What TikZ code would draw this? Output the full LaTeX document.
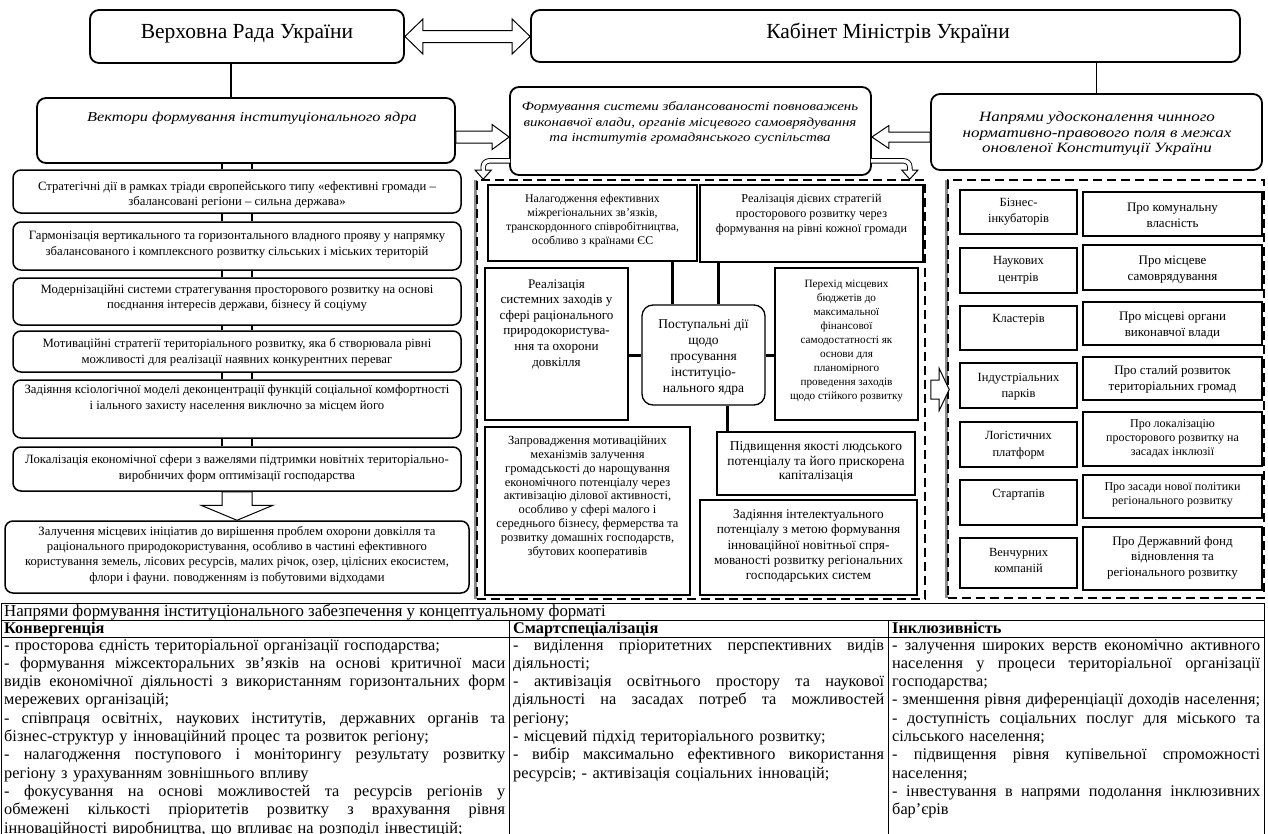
\documentclass[tikz,border=0pt]{standalone}
\usepackage{fontspec}
\setmainfont{Liberation Serif}
\newfontfamily\wit{Liberation Serif}[FakeStretch=1.2]
\usetikzlibrary{calc}
\newcommand\fsz[2]{\fontsize{#1pt}{#2pt}\selectfont}
\newcommand\jl[2]{\leavevmode\hbox to #1{\spaceskip=0.25em plus 1fil minus 0.08em\xspaceskip=0.25em plus 1fil minus 0.08em\relax #2}}
\newcommand\mkbox[6]{\node[#1, minimum width={(#5-#3)*1pt}, minimum height={(#6-#4)*1pt}] (#2) at ({(#3+#5)/2},{(#4+#6)/2}) {};}
\newcommand\fatR[5]{\draw[fat] let \p1=(#1), \p2=(#2) in (\x1,\y1+#3pt) -- (\x2-#5pt,\y1+#3pt) -- (\x2-#5pt,\y1+#4pt) -- (\x2,\y1) -- (\x2-#5pt,\y1-#4pt) -- (\x2-#5pt,\y1-#3pt) -- (\x1,\y1-#3pt) -- cycle;}
\newcommand\fatL[5]{\draw[fat] let \p1=(#1), \p2=(#2) in (\x1,\y1+#3pt) -- (\x2+#5pt,\y1+#3pt) -- (\x2+#5pt,\y1+#4pt) -- (\x2,\y1) -- (\x2+#5pt,\y1-#4pt) -- (\x2+#5pt,\y1-#3pt) -- (\x1,\y1-#3pt) -- cycle;}
\newcommand\fatD[5]{\draw[fat] let \p1=(#1), \p2=(#2) in (\x1+#3pt,\y1) -- (\x1+#3pt,\y2+#5pt) -- (\x1+#4pt,\y2+#5pt) -- (\x1,\y2) -- (\x1-#4pt,\y2+#5pt) -- (\x1-#3pt,\y2+#5pt) -- (\x1-#3pt,\y1) -- cycle;}
\newcommand\fatLR[5]{\draw[fat] let \p1=(#1), \p2=(#2) in (\x1,\y1) -- (\x1+#5pt,\y1+#4pt) -- (\x1+#5pt,\y1+#3pt) -- (\x2-#5pt,\y1+#3pt) -- (\x2-#5pt,\y1+#4pt) -- (\x2,\y1) -- (\x2-#5pt,\y1-#4pt) -- (\x2-#5pt,\y1-#3pt) -- (\x1+#5pt,\y1-#3pt) -- (\x1+#5pt,\y1-#4pt) -- cycle;}
\newcommand\dlines[2]{\draw[thin2] ($(#1.south)+(-15,0)$) -- ($(#2.north)+(-15,0)$); \draw[thin2] ($(#1.south)+(15,0)$) -- ($(#2.north)+(15,0)$);}
\tikzset{
 tbox/.style={draw, line width=1.8pt, rounded corners=9pt, fill=white, inner sep=0pt},
 lbox/.style={draw, line width=1.5pt, rounded corners=8pt, fill=white, inner sep=0pt},
 mbox/.style={draw, line width=1.3pt, fill=white, inner sep=0pt},
 cbox/.style={draw, line width=1.3pt, rounded corners=11pt, fill=white, inner sep=0pt},
 rbox/.style={draw, line width=1.5pt, fill=white, inner sep=0pt},
 dframe/.style={draw, line width=1.6pt, dash pattern=on 9pt off 5pt, inner sep=0pt},
 shadebar/.style={draw=black!45, line width=3pt},
 conn/.style={line width=3pt},
 thin2/.style={line width=1.4pt},
 fat/.style={draw, line width=1pt, fill=white, line join=miter},
 hollow/.style={line width=0.9pt, double=white, double distance=3.6pt},
 tl/.style={line width=0.9pt},
 txt/.style={inner sep=0pt, align=center},
 ltxt/.style={txt, font=\fsz{12.7}{15.5}},
 rtxt/.style={txt, font=\fsz{12.5}{16.5}},
 stxt/.style={txt, font=\fsz{13}{16}},
 tabtxt/.style={anchor=north west, inner sep=0pt, align=left, font=\fsz{16.3}{18.3}},
 tabhead/.style={anchor=base west, inner sep=0pt, font=\bfseries\fsz{16.3}{18.3}},
}
\begin{document}
\begin{tikzpicture}[x=1pt,y=-1pt]
\useasboundingbox (0,0) rectangle (1268,833);
\clip (0,0) rectangle (1268,833);
% ---------- top row
\mkbox{tbox}{A}{90}{10}{404}{63}
\mkbox{tbox}{B}{531}{10}{1240}{62}
\node[txt, font=\fsz{21.5}{24}] (tA) at (247,34) {Верховна Рада України};
\node[txt, font=\fsz{21.5}{24}] (tB) at (888,33) {Кабінет Міністрів України};
\fatLR{A.east}{B.west}{6}{17.5}{18}
% ---------- second row
\mkbox{tbox}{C}{37}{98}{455}{163}
\mkbox{tbox}{D}{510}{87}{871}{175}
\mkbox{tbox}{E}{931}{94}{1262}{170}
\draw[thin2] (A.south) ++(-16,0) coordinate (ka) -- (ka |- C.north);
\draw[thin2] (E.north |- B.south) -- (E.north);
\node[txt, font={\wit\itshape\fsz{13.6}{17}}] (tC) at (252,118) {Вектори формування інституціонального ядра};
\node[txt, font={\wit\itshape\fsz{12.5}{15.5}}] (tD) at (690,123) {Формування системи збалансованості повноважень\\виконавчої влади, органів місцевого самоврядування\\та інститутів громадянського суспільства};
\node[txt, font={\wit\itshape\fsz{14.2}{15.5}}] (tE) at (1097,134) {Напрями удосконалення чинного\\нормативно-правового поля в межах\\оновленої Конституції України};
\fatR{$(C.east)+(0,6.5)$}{D.west}{6}{12.5}{17}
\fatL{$(E.west)+(0,5)$}{D.east}{5}{11.5}{17}
% ---------- frames
\draw[shadebar] (475.5,180) -- (475.5,599);
\draw[shadebar] (946.5,180) -- (946.5,598);
\mkbox{dframe}{MF}{477}{180}{925}{599}
\mkbox{dframe}{RF}{948}{180}{1264}{598}
% curved hollow arrows from D
\coordinate (cl0) at ($(D.south west)+(1,-15)$);
\coordinate (cl1) at ($(MF.north west)+(7,-9)$);
\draw[hollow, rounded corners=6pt] (cl0) -| (cl1);
\draw[fat] ($(cl1)+(-8,0)$) -- ($(cl1)+(8,0)$) -- ($(cl1)+(0,9)$) -- cycle;
\draw[white, line width=3.4pt] ($(cl1)+(0,-1)$) -- ($(cl1)+(0,1.5)$);
\coordinate (cr0) at ($(D.south east)+(-1,-15)$);
\coordinate (cr1) at ($(MF.north east)+(-16,-9)$);
\draw[hollow, rounded corners=6pt] (cr0) -| (cr1);
\draw[fat] ($(cr1)+(-8,0)$) -- ($(cr1)+(8,0)$) -- ($(cr1)+(0,9)$) -- cycle;
\draw[white, line width=3.4pt] ($(cr1)+(0,-1)$) -- ($(cr1)+(0,1.5)$);
% ---------- middle boxes
\mkbox{mbox}{M1}{488}{185}{697}{261}
\mkbox{mbox}{M2}{700}{185}{923}{262}
\mkbox{mbox}{M3}{485}{268}{628}{420}
\mkbox{cbox}{M0}{642}{305}{765}{405}
\mkbox{mbox}{M4}{775}{268}{918}{420}
\mkbox{mbox}{M5}{485}{427}{690}{595}
\mkbox{mbox}{M6}{717}{432}{915}{495}
\mkbox{mbox}{M7}{700}{500}{917}{595}
\draw[conn] (M0.north) ++(-31.5,0) coordinate (k1) -- (k1 |- M1.south);
\draw[conn] (M0.north) ++(14.5,0) coordinate (k2) -- (k2 |- M2.south);
\draw[conn] (M0.west) -- (M0.west -| M3.east);
\draw[conn] (M0.east) -- (M0.east -| M4.west);
\draw[conn] (M0.south) ++(23.5,0) coordinate (k3) -- (k3 |- M6.north);
\node[txt, font=\fsz{11.8}{14}] (tM1) at (592.5,221) {Налагодження ефективних\\міжрегіональних зв’язків,\\транскордонного співробітництва,\\особливо з країнами ЄС};
\node[txt, font=\fsz{12.2}{15}] (tM2) at (811.5,215) {Реалізація дієвих стратегій\\просторового розвитку через\\формування на рівні кожної громади};
\node[txt, font=\fsz{13.1}{15.6}] (tM3) at (556.5,324) {Реалізація\\системних заходів у\\сфері раціонального\\природокористува-\\ння та охорони\\довкілля};
\node[txt, font=\fsz{13.5}{16}] (tM0) at (703.5,357.5) {Поступальні дії\\щодо\\просування\\інституціо-\\нального ядра};
\node[txt, font=\fsz{11.2}{14.1}] (tM4) at (846.5,341) {Перехід місцевих\\бюджетів до\\максимальної\\фінансової\\самодостатності як\\основи для\\планомірного\\проведення заходів\\щодо стійкого розвитку};
\node[txt, font=\fsz{12.5}{13.8}] (tM5) at (587.5,497) {Запровадження мотиваційних\\механізмів залучення\\громадськості до нарощування\\економічного потенціалу через\\активізацію ділової активності,\\особливо у сфері малого і\\середнього бізнесу, фермерства та\\розвитку домашніх господарств,\\збутових кооперативів};
\node[txt, font=\fsz{13.5}{14.5}] (tM6) at (816,462) {Підвищення якості людського\\потенціалу та його прискорена\\капіталізація};
\node[txt, font=\fsz{13.3}{15.3}] (tM7) at (808.5,546) {Задіяння інтелектуального\\потенціалу з метою формування\\інноваційної новітньої спря-\\мованості розвитку регіональних\\господарських систем};
\fatR{$(MF.east)+(5,0)$}{$(RF.west)+(2,0)$}{9.5}{21}{10}
% ---------- right boxes
\mkbox{rbox}{R1}{960}{190}{1077}{234}
\mkbox{rbox}{R2}{960}{248}{1077}{293}
\mkbox{rbox}{R3}{960}{306}{1077}{350}
\mkbox{rbox}{R4}{960}{363}{1077}{408}
\mkbox{rbox}{R5}{960}{422}{1077}{467}
\mkbox{rbox}{R6}{960}{480}{1077}{525}
\mkbox{rbox}{R7}{960}{538}{1077}{588}
\mkbox{rbox}{S1}{1083}{192}{1262}{236}
\mkbox{rbox}{S2}{1083}{245}{1262}{290}
\mkbox{rbox}{S3}{1083}{302}{1262}{345}
\mkbox{rbox}{S4}{1083}{357}{1262}{400}
\mkbox{rbox}{S5}{1083}{412}{1262}{466}
\mkbox{rbox}{S6}{1083}{475}{1262}{518}
\mkbox{rbox}{S7}{1083}{527}{1262}{590}
\node[rtxt] (tR1) at (1018.5,211.5) {Бізнес-\\інкубаторів};
\node[rtxt] (tR2) at (1018.5,270) {Наукових\\центрів};
\node[rtxt] (tR3) at (1018.5,320) {Кластерів};
\node[rtxt] (tR4) at (1018.5,386.5) {Індустріальних\\парків};
\node[rtxt] (tR5) at (1018.5,445) {Логістичних\\платформ};
\node[rtxt] (tR6) at (1018.5,495) {Стартапів};
\node[rtxt] (tR7) at (1018.5,560.5) {Венчурних\\компаній};
\node[stxt] (tS1) at (1172.5,215) {Про комунальну\\власність};
\node[stxt] (tS2) at (1172.5,269.5) {Про місцеве\\самоврядування};
\node[stxt] (tS3) at (1172.5,325) {Про місцеві органи\\виконавчої влади};
\node[stxt] (tS4) at (1172.5,379.5) {Про сталий розвиток\\територіальних громад};
\node[txt, font=\fsz{12}{14}] (tS5) at (1172.5,439) {Про локалізацію\\просторового розвитку на\\засадах інклюзії};
\node[txt, font=\fsz{12}{14.5}] (tS6) at (1172.5,495) {Про засади нової політики\\регіонального розвитку};
\node[txt, font=\fsz{13}{15.5}] (tS7) at (1172.5,557.5) {Про Державний фонд\\відновлення та\\регіонального розвитку};
% ---------- left column
\mkbox{lbox}{L1}{13}{170}{461}{213}
\mkbox{lbox}{L2}{13}{222}{461}{270}
\mkbox{lbox}{L3}{13}{278}{461}{325}
\mkbox{lbox}{L4}{13}{331}{461}{372}
\mkbox{lbox}{L5}{13}{380}{461}{438}
\mkbox{lbox}{L6}{13}{447}{461}{491}
\mkbox{lbox}{L7}{5}{521}{469}{593}
\draw[thin2] ($(L1.north)+(-15,0)$) -- ($(L1.north |- C.south)+(-15,0)$);
\draw[thin2] ($(L1.north)+(15,0)$) -- ($(L1.north |- C.south)+(15,0)$);
\dlines{L1}{L2}
\dlines{L2}{L3}
\dlines{L3}{L4}
\dlines{L4}{L5}
\dlines{L5}{L6}
\fatD{L6.south}{L7.north}{15}{36}{15}
\node[ltxt] (tL1) at (237,195) {Стратегічні дії в рамках тріади європейського типу «ефективні громади –\\збалансовані регіони – сильна держава»};
\node[ltxt] (tL2) at (237,244.5) {Гармонізація вертикального та горизонтального владного прояву у напрямку\\збалансованого і комплексного розвитку сільських і міських територій};
\node[ltxt] (tL3) at (237,298) {Модернізаційні системи стратегування просторового розвитку на основі\\поєднання інтересів держави, бізнесу й соціуму};
\node[ltxt] (tL4) at (237,352.5) {Мотиваційні стратегії територіального розвитку, яка б створювала рівні\\можливості для реалізації наявних конкурентних переваг};
\node[ltxt] (tL5) at (237,398.5) {Задіяння ксіологічної моделі деконцентрації функцій соціальної комфортності\\і іального захисту населення виключно за місцем його};
\node[ltxt] (tL6) at (237,468.5) {Локалізація економічної сфери з важелями підтримки новітніх територіально-\\виробничих форм оптимізації господарства};
\node[txt, font=\fsz{12.7}{15.3}] (tL7) at (237,555) {Залучення місцевих ініціатив до вирішення проблем охорони довкілля та\\раціонального природокористування, особливо в частині ефективного\\користування земель, лісових ресурсів, малих річок, озер, цілісних екосистем,\\флори і фауни. поводженням із побутовими відходами};
% ---------- table
\draw[tl] (1,603) -- (1264,603);
\draw[tl] (1,620) -- (1264,620);
\draw[tl] (1,637) -- (1264,637);
\draw[tl] (1,603) -- (1,840);
\draw[tl] (1264,603) -- (1264,840);
\draw[tl] (509,620) -- (509,840);
\draw[tl] (888,620) -- (888,840);
\node[anchor=base west, inner sep=0pt, font=\fsz{16.8}{18.3}] (tt0) at (4,616) {Напрями формування інституціонального забезпечення у концептуальному форматі};
\node[tabhead] (th1) at (4,633) {Конвергенція};
\node[tabhead] (th2) at (513,633) {Смартспеціалізація};
\node[tabhead] (th3) at (892,633) {Інклюзивність};
\node[tabtxt, text width=501pt] (tc1) at (4,639) {- просторова єдність територіальної організації господарства;\\
\jl{501pt}{- формування міжсекторальних зв’язків на основі критичної маси}\\
\jl{501pt}{видів економічної діяльності з використанням горизонтальних форм}\\
мережевих організацій;\\
\jl{501pt}{- співпраця освітніх, наукових інститутів, державних органів та}\\
бізнес-структур у інноваційний процес та розвиток регіону;\\
\jl{501pt}{- налагодження поступового і моніторингу результату розвитку}\\
регіону з урахуванням зовнішнього впливу\\
\jl{501pt}{- фокусування на основі можливостей та ресурсів регіонів у}\\
\jl{501pt}{обмежені кількості пріоритетів розвитку з врахування рівня}\\
інноваційності виробництва, що впливає на розподіл інвестицій;};
\node[tabtxt, text width=371pt] (tc2) at (513,639) {\jl{371pt}{- виділення пріоритетних перспективних видів}\\
діяльності;\\
\jl{371pt}{- активізація освітнього простору та наукової}\\
\jl{371pt}{діяльності на засадах потреб та можливостей}\\
регіону;\\
- місцевий підхід територіального розвитку;\\
\jl{371pt}{- вибір максимально ефективного використання}\\
ресурсів; - активізація соціальних інновацій;};
\node[tabtxt, text width=370pt] (tc3) at (892,639) {\jl{368pt}{- залучення широких верств економічно активного}\\
\jl{368pt}{населення у процеси територіальної організації}\\
господарства;\\
\jl{368pt}{- зменшення рівня диференціації доходів населення;}\\
\jl{368pt}{- доступність соціальних послуг для міського та}\\
сільського населення;\\
\jl{368pt}{- підвищення рівня купівельної спроможності}\\
населення;\\
\jl{368pt}{- інвестування в напрями подолання інклюзивних}\\
бар’єрів};
\end{tikzpicture}
\end{document}
